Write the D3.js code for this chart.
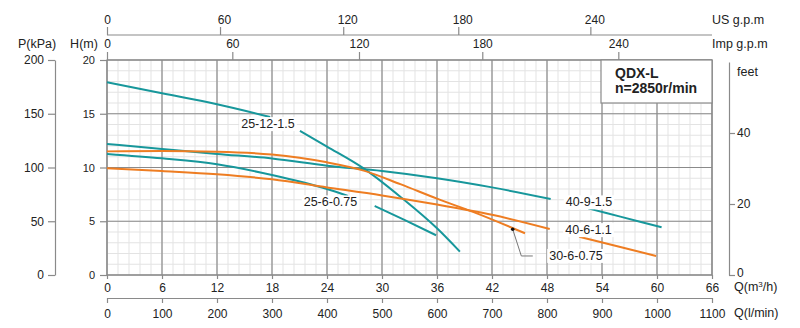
<!DOCTYPE html>
<html><head><meta charset="utf-8">
<script src="https://cdn.jsdelivr.net/npm/d3@7"></script>
<style>
body{margin:0;background:#fff;}
text{font-family:"Liberation Sans",Arial,sans-serif;fill:#222;}
</style></head>
<body><svg id="c" width="800" height="328"></svg>
<script>
// ---- data ----
const qTicks = [0,6,12,18,24,30,36,42,48,54,60,66];
const lminTicks = [0,100,200,300,400,500,600,700,800,900,1000,1100];
const hTicks = [0,5,10,15,20];
const pTicks = [0,50,100,150,200];
const feetTicks = [0,20,40];
const usTicks = [0,60,120,180,240];
const usTickQ = [0,12.33,25.77,38.32,52.73];   // Q (m3/h) where each US gpm tick sits
const impTicks = [0,60,120,180,240];
const impTickQ = [0,13.67,27.49,40.94,55.78];  // Q (m3/h) where each Imp gpm tick sits

const c25_12_q = [0,6,12,17.8,null,21.05,24,28,32,36,38.5];
const c25_12_h = [17.93,16.9,15.88,14.7,null,13.4,11.95,9.92,7.28,4.34,2.17];
const c40_9_q  = [0,6,12,18,24,30,36,42,48.4,null,52.5,56,60.5];
const c40_9_h  = [12.19,11.72,11.26,10.84,10.17,9.67,9.0,8.15,7.07,null,6.2,5.43,4.44];
const c25_6_q  = [0,6,12,18,24,26.3,null,29.2,32.5,35.9];
const c25_6_h  = [11.26,10.85,10.3,9.3,8.0,7.35,null,6.42,5.1,3.7];
const c30_6_q  = [0,6,12,18,21,24,28,32,36,40,45.6];
const c30_6_h  = [11.5,11.53,11.47,11.2,10.9,10.48,9.71,8.45,7.1,5.85,3.88];
const c40_6_q  = [0,6,12,18,24,30,36,42,48.3,null,51.5,56,59.9];
const c40_6_h  = [9.93,9.67,9.37,8.9,8.15,7.4,6.55,5.6,4.28,null,3.57,2.6,1.77];

const curveNames = ["25-12-1.5","40-9-1.5","25-6-0.75","30-6-0.75","40-6-1.1"];
const labelQ = [17.56,52.58,24.38,51.16,52.53];
const labelH = [14.07,6.79,6.79,1.81,4.21];
const leaderQ = [44.26,45.2,46.45];
const leaderH = [4.25,1.77,1.77];

// ---- setup ----
const teal="#17979b", orange="#ee7d22";
const svg=d3.select("#c");
const x=d3.scaleLinear().domain([0,66]).range([107,712]);
const y=d3.scaleLinear().domain([0,20]).range([275,60]);
const p=d3.scaleLinear().domain([0,200]).range([275,60]);
const ft=d3.scaleLinear().domain([0,60]).range([275,62]);
const lmin=d3.scaleLinear().domain([0,1100]).range([107,712]);
const us=d3.scaleLinear().domain(usTicks).range(usTickQ.map(x));
const imp=d3.scaleLinear().domain(impTicks).range(impTickQ.map(x));
const fmt=d3.format("d");

// grid
const g=svg.append("g");
g.selectAll(".mv").data(d3.range(0,66.01,1.2)).enter().append("line")
 .attr("x1",d=>x(d)).attr("x2",d=>x(d)).attr("y1",60).attr("y2",275)
 .attr("stroke","#e3e3e3").attr("stroke-width",1);
g.selectAll(".mh").data(d3.range(0,20.01,1)).enter().append("line")
 .attr("y1",d=>y(d)).attr("y2",d=>y(d)).attr("x1",107).attr("x2",712)
 .attr("stroke","#e3e3e3").attr("stroke-width",1);
g.selectAll(".Mv").data(qTicks).enter().append("line")
 .attr("x1",d=>x(d)).attr("x2",d=>x(d)).attr("y1",60).attr("y2",275)
 .attr("stroke","#8a8a8a").attr("stroke-width",1.2);
g.selectAll(".Mh").data(hTicks).enter().append("line")
 .attr("y1",d=>y(d)).attr("y2",d=>y(d)).attr("x1",107).attr("x2",712)
 .attr("stroke","#8a8a8a").attr("stroke-width",1.2);
svg.append("rect").attr("x",107).attr("y",60).attr("width",605).attr("height",215)
 .attr("fill","none").attr("stroke","#8a8a8a").attr("stroke-width",1.2);

function styleAxis(sel,fs){
  sel.selectAll("path").attr("stroke","#8a8a8a").attr("stroke-width",1.2);
  sel.selectAll("line").attr("stroke","#8a8a8a").attr("stroke-width",1.2);
  sel.selectAll("text").style("font-size",fs+"px").attr("fill","#222")
    .style("font-family","'Liberation Sans',Arial,sans-serif");
}
// P axis
const aP=svg.append("g").attr("transform","translate(55,0)")
 .call(d3.axisLeft(p).tickValues(pTicks).tickFormat(fmt).tickSize(7).tickSizeOuter(0).tickPadding(4));
styleAxis(aP,12);
// H axis
const aH=svg.append("g").attr("transform","translate(107,0)")
 .call(d3.axisLeft(y).tickValues(hTicks).tickFormat(fmt).tickSize(7).tickSizeOuter(0).tickPadding(5));
styleAxis(aH,11); aH.select("path").remove();
// bottom m3/h
const aQ=svg.append("g").attr("transform","translate(0,275)")
 .call(d3.axisBottom(x).tickValues(qTicks).tickFormat(fmt).tickSize(4).tickSizeOuter(0).tickPadding(4));
styleAxis(aQ,12); aQ.select("path").remove();
// l/min
const aL=svg.append("g").attr("transform","translate(0,298)")
 .call(d3.axisBottom(lmin).tickValues(lminTicks).tickFormat(fmt).tickSize(5).tickSizeOuter(0).tickPadding(6));
styleAxis(aL,12);
// US gpm
const aU=svg.append("g").attr("transform","translate(0,35)")
 .call(d3.axisTop(us).tickValues(usTicks).tickFormat(fmt).tickSize(8).tickSizeOuter(0).tickPadding(3));
styleAxis(aU,12);
aU.select("path").attr("d","M"+x(0)+",0H"+x(66));
aU.selectAll("text").attr("dx",d=>d===0?0:4);
// Imp gpm
const aI=svg.append("g").attr("transform","translate(0,60)")
 .call(d3.axisTop(imp).tickValues(impTicks).tickFormat(fmt).tickSize(8).tickSizeOuter(0).tickPadding(4));
styleAxis(aI,12); aI.select("path").remove();
// feet
const aF=svg.append("g").attr("transform","translate(729,0)")
 .call(d3.axisRight(ft).tickValues(feetTicks).tickFormat(fmt).tickSize(6).tickSizeOuter(0).tickPadding(2));
styleAxis(aF,12);
aF.selectAll("text").filter(d=>d===0).attr("dy","0.1em");

// axis titles
const T=(t,xx,yy,anchor,fs,wt)=>svg.append("text").attr("x",xx).attr("y",yy)
 .attr("text-anchor",anchor||"start").style("font-size",(fs||12)+"px")
 .style("font-weight",wt||"normal").text(t);
T("P(kPa)",37,48,"middle",12.5);
T("H(m)",84,48,"middle",12.5);
T("US g.p.m",712,24,"start",12.5);
T("Imp g.p.m",712,48,"start",12.5);
T("feet",737,76,"start",12.5);
const qm=svg.append("text").attr("x",734).attr("y",291).style("font-size","12.5px");
qm.append("tspan").text("Q(m");
qm.append("tspan").attr("dy",-4).style("font-size","8px").text("3");
qm.append("tspan").attr("dy",4).text("/h)");
T("Q(l/min)",734,317,"start",12.5);

// curves
const series=[
 {q:c25_12_q,h:c25_12_h,c:teal},
 {q:c40_9_q,h:c40_9_h,c:teal},
 {q:c25_6_q,h:c25_6_h,c:teal},
 {q:c30_6_q,h:c30_6_h,c:orange},
 {q:c40_6_q,h:c40_6_h,c:orange}
];
const line=d3.line().defined(d=>d[1]!=null).x(d=>x(d[0])).y(d=>y(d[1])).curve(d3.curveMonotoneX);
series.forEach(s=>{
  const pts=s.q.map((q,i)=>[q,s.h[i]]);
  svg.append("path").attr("d",line(pts)).attr("fill","none")
   .attr("stroke",s.c).attr("stroke-width",2);
});

// leader for 30-6-0.75
svg.append("path").attr("d",d3.line().x((d,i)=>x(d)).y((d,i)=>y(leaderH[i]))(leaderQ))
 .attr("fill","none").attr("stroke","#777").attr("stroke-width",1);
svg.append("circle").attr("cx",x(leaderQ[0])).attr("cy",y(leaderH[0])).attr("r",1.8).attr("fill","#111");

// labels with white boxes
curveNames.forEach((n,i)=>{
  const t=svg.append("text").attr("x",x(labelQ[i])).attr("y",y(labelH[i]))
   .attr("text-anchor","middle").attr("dy","0.35em").style("font-size","12.5px").text(n);
  const b=t.node().getBBox();
  svg.insert("rect",()=>t.node()).attr("x",b.x-2).attr("y",b.y).attr("width",b.width+4)
   .attr("height",b.height).attr("fill","#fff");
});

// legend box
svg.append("rect").attr("x",601).attr("y",60).attr("width",111).attr("height",43)
 .attr("fill","#fff").attr("stroke","#8a8a8a").attr("stroke-width",1.2);
T("QDX-L",615,78,"start",14,"bold");
T("n=2850r/min",615,93,"start",14,"bold");
</script></body></html>
